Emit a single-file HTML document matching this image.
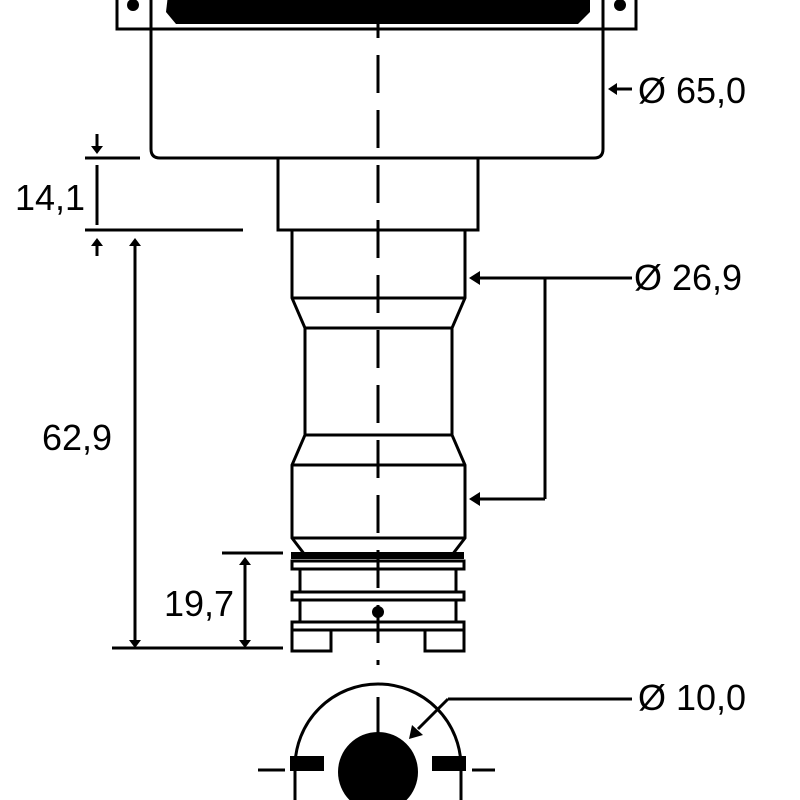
<!DOCTYPE html>
<html><head><meta charset="utf-8"><style>
html,body{margin:0;padding:0;background:#fff;}
svg{display:block}
text{font-family:"Liberation Sans",sans-serif;font-size:36px;fill:#000}
</style></head><body>
<svg width="800" height="800" viewBox="0 0 800 800" xmlns="http://www.w3.org/2000/svg">
<g fill="none" stroke="#000" stroke-width="3">
<!-- flange -->
<rect x="117" y="-5" width="519" height="34"/>
<line x1="151" y1="-5" x2="151" y2="29"/>
<line x1="603" y1="-5" x2="603" y2="29"/>
<!-- body -->
<path d="M151 29 V149 Q151 158 160 158 H594 Q603 158 603 149 V29"/>
<!-- neck -->
<rect x="278" y="158" width="200" height="72"/>
<!-- cylinder -->
<path d="M292 230 V298 L305 328 V435 L292 465 V538 L305 555"/>
<path d="M465 230 V298 L452 328 V435 L465 465 V538 L452 555"/>
<line x1="292" y1="298" x2="465" y2="298"/>
<line x1="305" y1="328" x2="452" y2="328"/>
<line x1="305" y1="435" x2="452" y2="435"/>
<line x1="292" y1="465" x2="465" y2="465"/>
<line x1="292" y1="538" x2="465" y2="538"/>
<!-- rings -->
<rect x="292" y="561" width="172" height="8"/>
<line x1="300" y1="569" x2="300" y2="592"/>
<line x1="456" y1="569" x2="456" y2="592"/>
<rect x="292" y="592" width="172" height="8"/>
<line x1="300" y1="600" x2="300" y2="622"/>
<line x1="456" y1="600" x2="456" y2="622"/>
<rect x="292" y="622" width="172" height="8"/>
<rect x="292" y="630" width="39" height="21"/>
<rect x="425" y="630" width="39" height="21"/>
<!-- centerline -->
<line x1="378" y1="0" x2="378" y2="665" stroke-dasharray="38,17"/>
<!-- dims left -->
<line x1="85" y1="158" x2="140" y2="158"/>
<line x1="85" y1="230" x2="243" y2="230"/>
<line x1="97" y1="165" x2="97" y2="225"/>
<line x1="97" y1="134" x2="97" y2="146"/>
<line x1="97" y1="246" x2="97" y2="256"/>
<line x1="135" y1="245" x2="135" y2="640"/>
<line x1="112" y1="648" x2="283" y2="648"/>
<line x1="222" y1="553" x2="283" y2="553"/>
<line x1="245" y1="565" x2="245" y2="640"/>
<!-- right dims -->
<line x1="616" y1="89" x2="632" y2="89"/>
<line x1="478" y1="278" x2="632" y2="278"/>
<line x1="545" y1="278" x2="545" y2="499"/>
<line x1="478" y1="499" x2="545" y2="499"/>
<!-- bottom view -->
<path d="M295 800 V767 A83 83 0 0 1 461 767 V800"/>
<line x1="258" y1="770" x2="285" y2="770"/>
<line x1="472" y1="770" x2="495" y2="770"/>
<line x1="378" y1="697" x2="378" y2="735"/>
<line x1="448" y1="699" x2="632" y2="699"/>
<line x1="448" y1="699" x2="418" y2="729"/>
</g>
<g fill="#000">
<path d="M168 -5 H590 V12 L578 24 H176 L166 12 Z"/>
<circle cx="133" cy="5" r="6"/><circle cx="620" cy="5" r="6"/>
<rect x="291" y="552" width="173" height="7"/>
<circle cx="378" cy="612" r="6"/>
<!-- arrowheads -->
<path d="M91 146 H103 L97 154 Z"/>
<path d="M91 246 H103 L97 238 Z"/>
<path d="M129 246 H141 L135 238 Z"/>
<path d="M129 640 H141 L135 648 Z"/>
<path d="M239 565 H251 L245 557 Z"/>
<path d="M239 640 H251 L245 648 Z"/>
<path d="M608 89 L617 83 V95 Z"/>
<path d="M469 278 L480 271 V285 Z"/>
<path d="M469 499 L480 492 V506 Z"/>
<path d="M409 739 L412 725 L423 735 Z"/>
<circle cx="378" cy="772" r="40"/>
<rect x="290" y="756" width="34" height="15"/>
<rect x="432" y="756" width="34" height="15"/>
</g>
<text x="638" y="103">Ø 65,0</text>
<text x="634" y="290">Ø 26,9</text>
<text x="638" y="710">Ø 10,0</text>
<text x="15" y="210">14,1</text>
<text x="42" y="450">62,9</text>
<text x="164" y="616">19,7</text>
</svg>
</body></html>
